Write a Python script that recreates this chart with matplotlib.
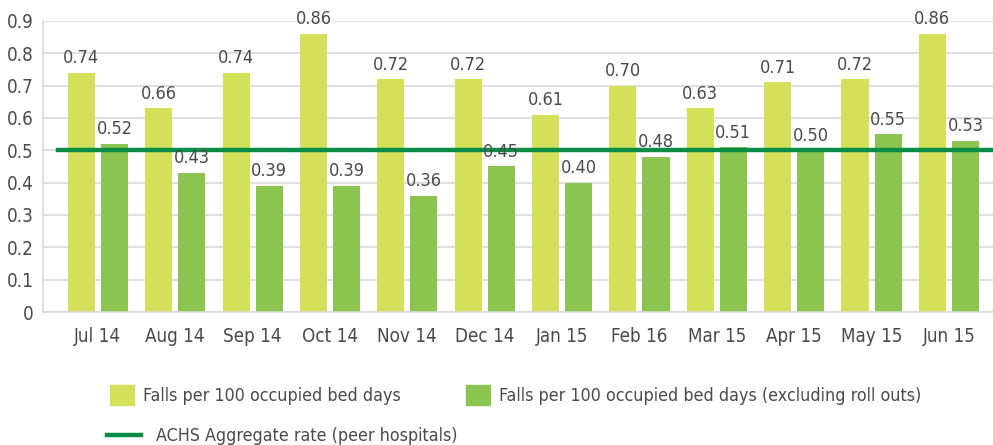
import matplotlib

matplotlib.use("Agg")

import numpy as np
import matplotlib.pyplot as plt
from matplotlib import font_manager
from matplotlib.patches import Patch
from matplotlib.lines import Line2D

# a condensed face if the system has one, else Roboto (narrower than DejaVu)
condensed = [f for f in font_manager.fontManager.ttflist
             if 'condensed' in str(f.stretch).lower() or 'Condensed' in f.name
             or 'Narrow' in f.name]
if condensed:
    plt.rcParams['font.family'] = [condensed[0].name, 'DejaVu Sans']
    plt.rcParams['font.stretch'] = condensed[0].stretch
else:
    plt.rcParams['font.family'] = ['Roboto', 'DejaVu Sans']

# %% data

months = ['Jul 14', 'Aug 14', 'Sep 14', 'Oct 14', 'Nov 14', 'Dec 14',
          'Jan 15', 'Feb 16', 'Mar 15', 'Apr 15', 'May 15', 'Jun 15']
falls_all = [0.74, 0.63, 0.74, 0.86, 0.72, 0.72, 0.61, 0.70, 0.63, 0.71, 0.72, 0.86]
falls_all_labels = ['0.74', '0.66', '0.74', '0.86', '0.72', '0.72',
                    '0.61', '0.70', '0.63', '0.71', '0.72', '0.86']
falls_excl = [0.52, 0.43, 0.39, 0.39, 0.36, 0.45, 0.40, 0.48, 0.51, 0.50, 0.55, 0.53]
falls_excl_labels = ['0.52', '0.43', '0.39', '0.39', '0.36', '0.45',
                     '0.40', '0.48', '0.51', '0.50', '0.55', '0.53']
achs_rate = 0.5

LIGHT = '#d4e05a'
DARK = '#8bc550'
LINE = '#0b8c46'
TEXT = '#4a4a4a'
GRID = '#d9d9d9'
FS = 13.5
FS_LAB = 13
FS_LEG = 12.8

# %%

fig = plt.figure(figsize=(9.93, 4.45), dpi=100)
ax = fig.add_axes([43 / 993, 1 - 312 / 445, 1 - 43 / 993, (312 - 21) / 445])

x = np.arange(len(months))
w = 0.35
off = 0.214

ax.bar(x - off, falls_all, width=w, color=LIGHT, zorder=2)
ax.bar(x + off, falls_excl, width=w, color=DARK, zorder=2)
ax.axhline(achs_rate, xmin=15 / 950, xmax=1.0, color=LINE, lw=3.2, zorder=3)

for xi, h, lab in zip(x - off, falls_all, falls_all_labels):
    ax.annotate(lab, (xi, h), xytext=(0, 4), textcoords='offset points',
                ha='center', va='bottom', fontsize=FS_LAB, color=TEXT, zorder=4)
for xi, h, lab in zip(x + off, falls_excl, falls_excl_labels):
    ax.annotate(lab, (xi, h), xytext=(0, 4), textcoords='offset points',
                ha='center', va='bottom', fontsize=FS_LAB, color=TEXT, zorder=4)

ax.set_xlim(-0.71, 11.57)
ax.set_ylim(0, 0.9)
ax.set_yticks(np.arange(0, 0.91, 0.1))
ax.set_yticklabels(['0'] + ['%.1f' % v for v in np.arange(0.1, 0.91, 0.1)])
ax.set_xticks(x)
ax.set_xticklabels(months)
ax.tick_params(axis='both', length=0, labelsize=FS, colors=TEXT)
ax.tick_params(axis='x', pad=11)
ax.tick_params(axis='y', pad=7)

ax.grid(axis='y', color=GRID, lw=1.2, zorder=0)
ax.set_axisbelow(True)
for s in ['top', 'right']:
    ax.spines[s].set_visible(False)
for s in ['left', 'bottom']:
    ax.spines[s].set_color(GRID)
    ax.spines[s].set_linewidth(1.2)

fig.legend(
    handles=[Patch(color=LIGHT, label='Falls per 100 occupied bed days'),
             Patch(color=DARK, label='Falls per 100 occupied bed days (excluding roll outs)')],
    ncol=2, loc='center left', bbox_to_anchor=(110 / 993, 1 - 395 / 445),
    frameon=False, borderpad=0, borderaxespad=0, fontsize=FS_LEG,
    handlelength=1.35, handleheight=1.3, handletextpad=0.5, columnspacing=3.7,
    labelcolor=TEXT)
fig.legend(
    handles=[Line2D([], [], color=LINE, lw=3.2, label='ACHS Aggregate rate (peer hospitals)')],
    loc='center left', bbox_to_anchor=(107 / 993, 1 - 436 / 445),
    frameon=False, borderpad=0, borderaxespad=0, fontsize=FS_LEG,
    handlelength=1.9, handletextpad=0.85, labelcolor=TEXT)

fig.savefig('out.png', dpi=100)
